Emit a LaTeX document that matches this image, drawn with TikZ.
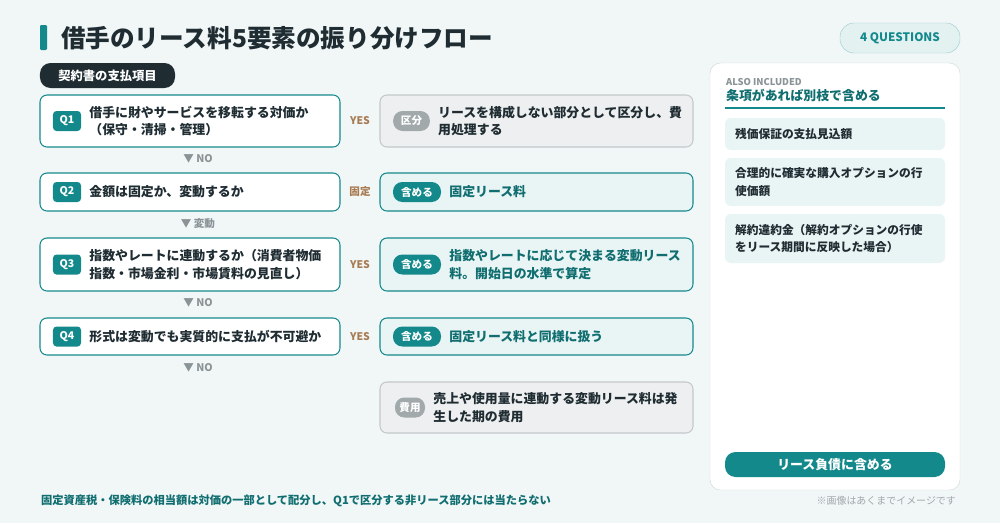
\documentclass[tikz,border=0pt]{standalone}
\usepackage{fontspec}
\setmainfont{Noto Sans CJK JP}
\usetikzlibrary{positioning}
\definecolor{teal0}{HTML}{14898C}
\definecolor{dark0}{HTML}{1F2D33}
\definecolor{bg0}{HTML}{F1F6F7}
\definecolor{tealbg}{HTML}{E9F4F4}
\definecolor{graybg}{HTML}{EEEFF0}
\definecolor{grayln}{HTML}{C4C8CA}
\definecolor{brown0}{HTML}{A87B52}
\definecolor{gray0}{HTML}{8A9396}
\begin{document}
\begin{tikzpicture}[x=0.03cm, y=-0.03cm]

	\tikzset{
	qbox/.style={draw=teal0, line width=0.9pt, fill=white, rounded corners=6pt},
	rbox/.style={draw=teal0, line width=0.9pt, fill=tealbg, rounded corners=6pt},
	gbox/.style={draw=grayln, line width=0.9pt, fill=graybg, rounded corners=6pt},
	qtag/.style={fill=teal0, text=white, rounded corners=3pt, font=\bfseries\fontsize{9}{9}\selectfont, minimum width=0.84cm, minimum height=0.6cm, inner sep=0pt},
	rtag/.style={fill=#1, text=white, rounded corners=8pt, font=\bfseries\fontsize{9}{9}\selectfont, minimum width=1.44cm, minimum height=0.6cm, inner sep=0pt},
	qtext/.style={anchor=west, align=left, text=dark0, font=\bfseries\fontsize{11}{15}\selectfont},
	rtext/.style={anchor=west, align=left, text=#1, font=\bfseries\fontsize{11}{15}\selectfont},
	ans/.style={text=brown0, font=\bfseries\fontsize{9}{9}\selectfont},
	down/.style={text=gray0, font=\bfseries\fontsize{9}{9}\selectfont},
	item/.style={fill=tealbg, rounded corners=5pt}
	}

	% Background
	\fill[bg0] (0,0) rectangle (1000,523);
	\useasboundingbox (0,0) rectangle (1000,523);

	% Title
	\fill[teal0, rounded corners=1pt] (40,25) rectangle (47,50);
	\node[anchor=west, text=dark0, font=\bfseries\fontsize{21}{21}\selectfont] (title) at (57,38) {借手のリース料5要素の振り分けフロー};
	\node[draw=teal0!40, fill=teal0!12, rounded corners=12pt, minimum width=3.6cm, minimum height=0.9cm, text=teal0, font=\bfseries\fontsize{10}{10}\selectfont] (count) at (900,38) {4 QUESTIONS};
	\node[fill=dark0, text=white, rounded corners=9pt, minimum width=4.05cm, minimum height=0.75cm, font=\bfseries\fontsize{10.5}{10.5}\selectfont] (source) at (107.5,75.5) {契約書の支払項目};

	% Question boxes
	\draw[qbox] (40,95) rectangle (340,147);
	\draw[qbox] (40,173) rectangle (340,211);
	\draw[qbox] (40,238) rectangle (340,291);
	\draw[qbox] (40,318) rectangle (340,355);
	\node[qtag] (q1) at (67,121) {Q1};
	\node[qtag] (q2) at (67,192) {Q2};
	\node[qtag] (q3) at (67,264.5) {Q3};
	\node[qtag] (q4) at (67,336.5) {Q4};
	\node[qtext, right=0.12cm of q1] (q1t) {借手に財やサービスを移転する対価か\\（保守・清掃・管理）};
	\node[qtext, right=0.12cm of q2] (q2t) {金額は固定か、変動するか};
	\node[qtext, right=0.12cm of q3] (q3t) {指数やレートに連動するか（消費者物価\\指数・市場金利・市場賃料の見直し）};
	\node[qtext, right=0.12cm of q4] (q4t) {形式は変動でも実質的に支払が不可避か};

	% Branch labels
	\node[ans] (a1) at (360,121) {YES};
	\node[ans] (a2) at (360,192) {固定};
	\node[ans] (a3) at (360,264.5) {YES};
	\node[ans] (a4) at (360,336.5) {YES};
	\node[down] (d1) at (198,159) {▼\ NO};
	\node[down] (d2) at (198,224) {▼\ 変動};
	\node[down] (d3) at (198,303) {▼\ NO};
	\node[down] (d4) at (198,368) {▼\ NO};

	% Result boxes
	\draw[gbox] (380,95) rectangle (693,147);
	\draw[rbox] (380,173) rectangle (693,211);
	\draw[rbox] (380,238) rectangle (693,291);
	\draw[rbox] (380,318) rectangle (693,355);
	\draw[gbox] (380,382) rectangle (693,433);
	\node[rtag=gray0!80, minimum width=1.1cm] (r1) at (411.5,121) {区分};
	\node[rtag=teal0] (r2) at (417,192) {含める};
	\node[rtag=teal0] (r3) at (417,264.5) {含める};
	\node[rtag=teal0] (r4) at (417,336.5) {含める};
	\node[rtag=gray0!80, minimum width=0.9cm] (r5) at (410,407.5) {費用};
	\node[rtext=dark0, right=0.12cm of r1] (r1t) {リースを構成しない部分として区分し、費\\用処理する};
	\node[rtext=teal0!80!black, right=0.12cm of r2] (r2t) {固定リース料};
	\node[rtext=teal0!80!black, right=0.12cm of r3] (r3t) {指数やレートに応じて決まる変動リース\\料。開始日の水準で算定};
	\node[rtext=teal0!80!black, right=0.12cm of r4] (r4t) {固定リース料と同様に扱う};
	\node[rtext=dark0, right=0.12cm of r5] (r5t) {売上や使用量に連動する変動リース料は発\\生した期の費用};

	% Side panel
	\draw[draw=grayln!70, fill=white, rounded corners=9pt] (710,63) rectangle (960,490);
	\node[anchor=west, text=gray0, font=\bfseries\fontsize{8}{8}\selectfont] (also) at (722,82) {ALSO INCLUDED};
	\node[anchor=west, text=teal0!80!black, font=\bfseries\fontsize{11}{11}\selectfont] (alsot) at (722,95) {条項があれば別枝で含める};
	\draw[teal0, line width=1.2pt] (725,108) -- (945,108);
	\fill[item] (725,118) rectangle (945,150);
	\fill[item] (725,158) rectangle (945,206);
	\fill[item] (725,214) rectangle (945,263);
	\node[qtext, font=\bfseries\fontsize{10}{15}\selectfont] (i1) at (731,134) {残価保証の支払見込額};
	\node[qtext, font=\bfseries\fontsize{10}{15}\selectfont] (i2) at (731,182) {合理的に確実な購入オプションの行\\使価額};
	\node[qtext, font=\bfseries\fontsize{10}{15}\selectfont] (i3) at (731,238.5) {解約違約金（解約オプションの行使\\をリース期間に反映した場合）};
	\node[fill=teal0, text=white, rounded corners=9pt, minimum width=6.6cm, minimum height=0.75cm, font=\bfseries\fontsize{11}{11}\selectfont] (total) at (835,464.5) {リース負債に含める};

	% Footer
	\node[anchor=west, text=teal0!80!black, font=\bfseries\fontsize{9.6}{9.6}\selectfont] (note) at (37,501) {固定資産税・保険料の相当額は対価の一部として配分し、Q1で区分する非リース部分には当たらない};
	\node[anchor=east, text=gray0!80, font=\fontsize{8.5}{8.5}\selectfont] (credit) at (960,501) {※画像はあくまでイメージです};

	\end{tikzpicture}
\end{document}
